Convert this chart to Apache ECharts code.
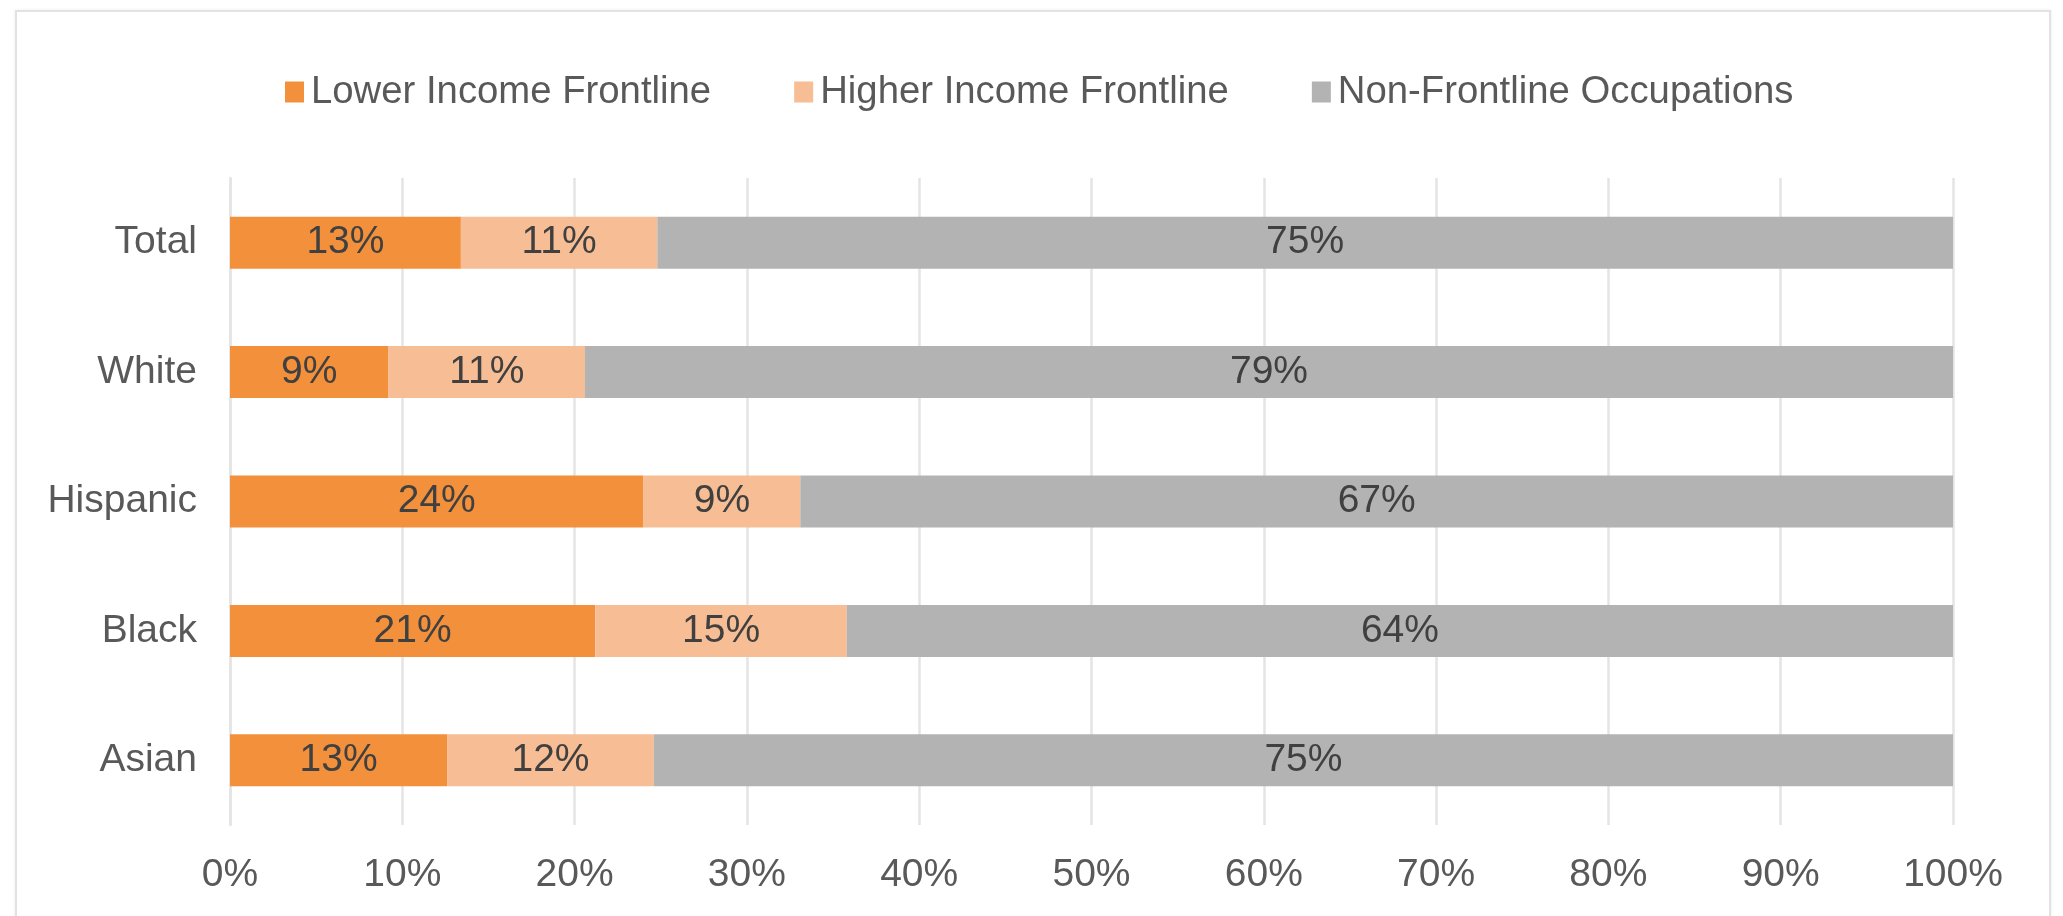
<!DOCTYPE html>
<html>
<head>
<meta charset="utf-8">
<title>Frontline occupations by race and ethnicity</title>
<script src="https://cdn.jsdelivr.net/npm/echarts@6/dist/echarts.min.js"></script>
<style>
  html, body { margin: 0; padding: 0; background: #ffffff; overflow: hidden; }
  #frame {
    position: absolute; left: 15px; top: 10px; width: 2036px; height: 940px;
    border: 2px solid #e2e2e2; box-shadow: 0 0 3px rgba(0,0,0,0.08);
    box-sizing: border-box;
  }
  #chart { position: absolute; left: 0; top: 0; width: 2063px; height: 916px; }
</style>
</head>
<body>
<div id="frame"></div>
<div id="chart"></div>
<script>
// Share of workers in each occupation group, by race / ethnicity (percent)
const categories = ['Total', 'White', 'Hispanic', 'Black', 'Asian'];
const lowerIncomeFrontline = [13.4, 9.2, 24.0, 21.2, 12.6];
const higherIncomeFrontline = [11.4, 11.4, 9.1, 14.6, 12.0];
const nonFrontline = [75.2, 79.4, 66.9, 64.2, 75.4];
const seriesNames = ['Lower Income Frontline', 'Higher Income Frontline', 'Non-Frontline Occupations'];
const xTicks = [0, 10, 20, 30, 40, 50, 60, 70, 80, 90, 100];

const FONT = '"Liberation Sans", Arial, Helvetica, sans-serif';
const FONT_SIZE = 39;
const colors = ['#F2903C', '#F7BD94', '#B3B3B3'];

const chart = echarts.init(document.getElementById('chart'), null, { renderer: 'canvas' });

function barSeries(name, data, color) {
  return {
    name: name,
    type: 'bar',
    stack: 'share',
    data: data,
    barWidth: 52,
    itemStyle: { color: color },
    label: {
      show: true,
      position: 'inside',
      formatter: p => Math.round(p.value) + '%',
      color: '#404040',
      fontFamily: FONT,
      fontSize: FONT_SIZE
    },
    emphasis: { disabled: true }
  };
}

chart.setOption({
  animation: false,
  backgroundColor: 'transparent',
  textStyle: { fontFamily: FONT },
  legend: {
    data: seriesNames,
    top: 60,
    left: 280,
    itemWidth: 19,
    itemHeight: 21,
    itemGap: 83,
    icon: 'rect',
    textStyle: {
      fontFamily: FONT,
      fontSize: 38.3,
      color: '#595959',
      lineHeight: 40,
      padding: [14, 0, 0, 2]
    }
  },
  grid: { left: 230, right: 110, top: 178, bottom: 91, containLabel: false },
  xAxis: {
    type: 'value',
    min: xTicks[0],
    max: xTicks[xTicks.length - 1],
    interval: 10,
    axisLine: { show: false },
    axisTick: { show: false },
    splitLine: { show: true, lineStyle: { color: '#e4e4e4', width: 2.5 } },
    axisLabel: {
      formatter: '{value}%',
      color: '#595959',
      fontFamily: FONT,
      fontSize: FONT_SIZE,
      margin: 31
    }
  },
  yAxis: {
    type: 'category',
    data: categories,
    inverse: true,
    axisLine: { show: true, lineStyle: { color: '#e4e4e4', width: 2.5 } },
    axisTick: { show: false },
    axisLabel: {
      color: '#595959',
      fontFamily: FONT,
      fontSize: FONT_SIZE,
      margin: 33
    }
  },
  series: [
    barSeries(seriesNames[0], lowerIncomeFrontline, colors[0]),
    barSeries(seriesNames[1], higherIncomeFrontline, colors[1]),
    barSeries(seriesNames[2], nonFrontline, colors[2])
  ]
});
</script>
</body>
</html>
